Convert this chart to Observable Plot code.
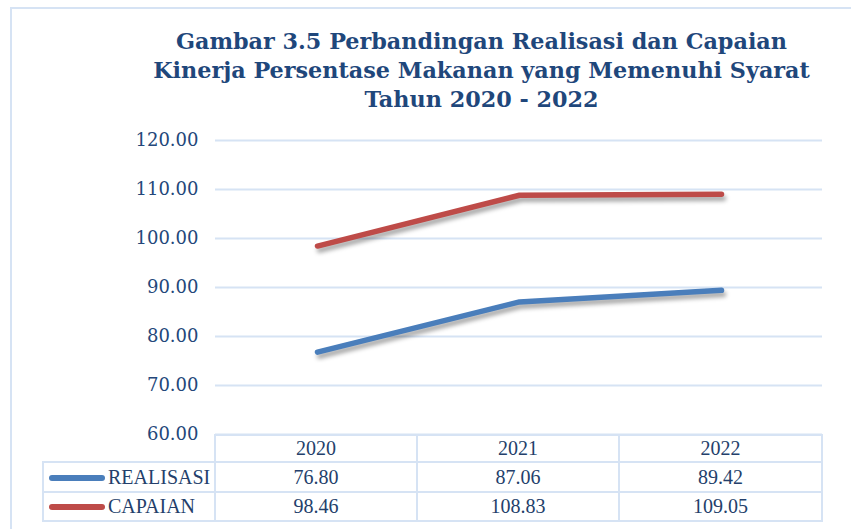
<!DOCTYPE html>
<html>
<head>
<meta charset="utf-8">
<script src="https://cdn.jsdelivr.net/npm/d3@7"></script>
<script src="https://cdn.jsdelivr.net/npm/@observablehq/plot@0.6"></script>
<style>
  html, body { margin: 0; padding: 0; background: #fff; }
  #wrap { position: relative; width: 851px; height: 529px; overflow: hidden; }
  #frame { position: absolute; left: 10px; top: 7px; width: 900px; height: 600px;
           border-left: 2px solid #d6e3f4; border-top: 2px solid #d6e3f4; }
  #title { position: relative; height: 122px; box-sizing: border-box; padding-top: 27px;
           padding-left: 112px; width: 851px;
           font-family: "DejaVu Serif", serif; font-weight: bold; font-size: 22.3px;
           line-height: 29px; color: #1f477b; text-align: center; }
  #chart { position: relative; }
  #tbl { position: absolute; left: 42px; top: 434px; border-collapse: collapse;
         font-family: "Liberation Serif", serif; font-size: 20px; color: #243f6b; }
  #tbl td { border: 2px solid #d6e3f4; text-align: center; padding: 0; }
  #tbl td.lab { text-align: left; padding-left: 5px; white-space: nowrap; }
  .sw { display: inline-block; width: 56px; height: 6px; border-radius: 3px;
        vertical-align: middle; margin-right: 3px; position: relative; top: -1px; }
</style>
</head>
<body>
<div id="wrap">
  <div id="frame"></div>
  <div id="title">Gambar 3.5 Perbandingan Realisasi dan Capaian<br>Kinerja Persentase Makanan yang Memenuhi Syarat<br>Tahun 2020 - 2022</div>
  <div id="chart"></div>
  <table id="tbl"></table>
</div>
<script>
const years = ["2020", "2021", "2022"];
const realisasi = [76.80, 87.06, 89.42];
const capaian = [98.46, 108.83, 109.05];
const seriesNames = ["REALISASI", "CAPAIAN"];
const seriesColors = ["#4a7ebb", "#be4b48"];
const yTicks = [60, 70, 80, 90, 100, 110, 120];

const rowsR = years.map((y, i) => ({year: y, value: realisasi[i]}));
const rowsC = years.map((y, i) => ({year: y, value: capaian[i]}));

const chart = Plot.plot({
  width: 851,
  height: 407,
  marginTop: 18,
  marginBottom: 95,
  marginLeft: 215,
  marginRight: 29,
  style: {fontFamily: "DejaVu Serif, serif", fontSize: "18px", color: "#24477a", background: "transparent"},
  x: {type: "point", domain: years, padding: 0.5, axis: null},
  y: {domain: [60, 120], ticks: yTicks, tickFormat: d3.format(".2f"), tickSize: 0, tickPadding: 17, label: null},
  marks: [
    Plot.gridY(yTicks, {stroke: "#d6e3f4", strokeOpacity: 1, strokeWidth: 2}),
    Plot.axisY(yTicks, {tickSize: 0, tickPadding: 17, tickFormat: d3.format(".2f"), label: null, fill: "#24477a"}),
    Plot.line(rowsR, {x: "year", y: "value", stroke: seriesColors[0], strokeWidth: 5.5, strokeLinecap: "round", strokeLinejoin: "round",
      imageFilter: "drop-shadow(2px 4px 2px rgba(0,0,0,0.35))"}),
    Plot.line(rowsC, {x: "year", y: "value", stroke: seriesColors[1], strokeWidth: 5.5, strokeLinecap: "round", strokeLinejoin: "round",
      imageFilter: "drop-shadow(2px 4px 2px rgba(0,0,0,0.35))"})
  ]
});
document.getElementById("chart").appendChild(chart);

// data table
const tbl = document.getElementById("tbl");
const colW = [173, 202, 202, 203];
const rowH = [27, 30, 29];
let html = `<tr style="height:${rowH[0]}px"><td style="width:${colW[0]-2}px;border-top:none;border-left:none;"></td>` +
  years.map((y, i) => `<td style="width:${colW[i+1]-2}px">${y}</td>`).join("") + "</tr>";
const allSeries = [realisasi, capaian];
allSeries.forEach((vals, s) => {
  html += `<tr style="height:${rowH[s+1]}px"><td class="lab"><span class="sw" style="background:${seriesColors[s]}"></span>${seriesNames[s]}</td>` +
    vals.map(v => `<td>${v.toFixed(2)}</td>`).join("") + "</tr>";
});
tbl.innerHTML = html;
</script>
</body>
</html>
